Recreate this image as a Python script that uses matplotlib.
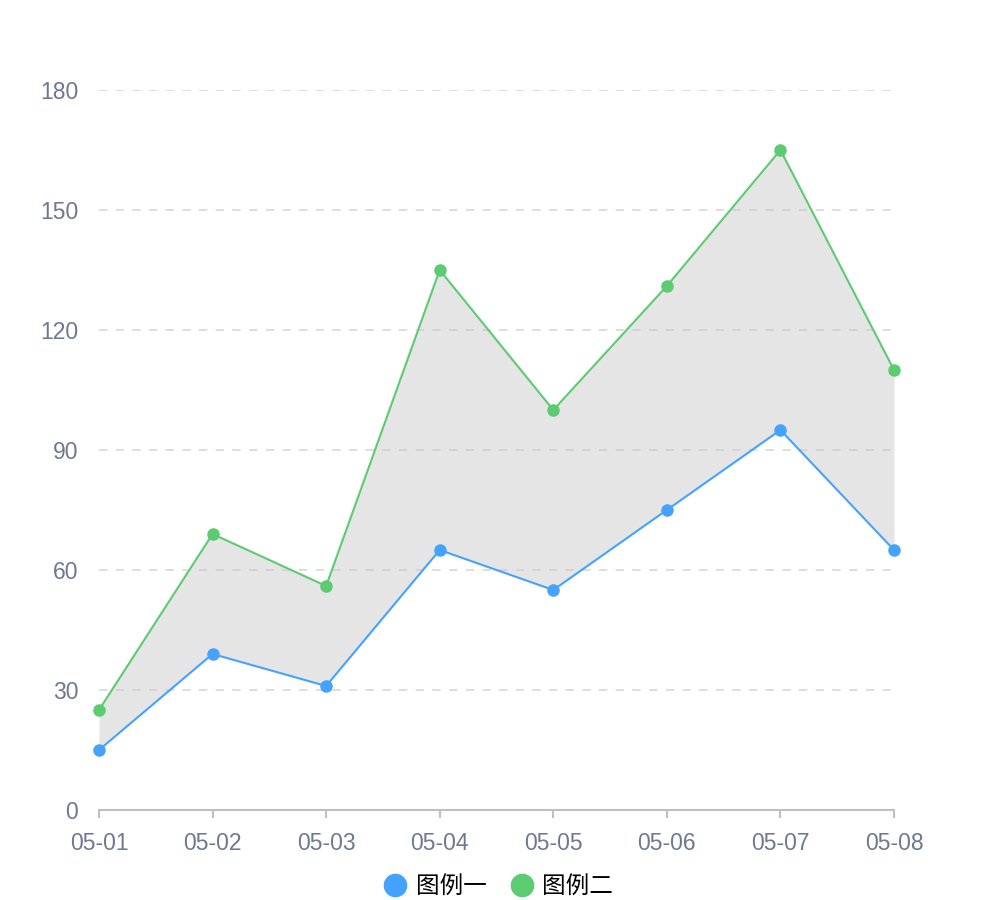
import matplotlib
matplotlib.use("Agg")
import matplotlib.pyplot as plt
from matplotlib.lines import Line2D

plt.rcParams["font.family"] = ["Noto Sans CJK SC", "DejaVu Sans"]

dates = ["05-01", "05-02", "05-03", "05-04", "05-05", "05-06", "05-07", "05-08"]
series_one = [15, 39, 31, 65, 55, 75, 95, 65]
series_two = [25, 69, 56, 135, 100, 131, 165, 110]
labels = ["图例一", "图例二"]
y_ticks = [0, 30, 60, 90, 120, 150, 180]

BLUE = "#45A2FF"
GREEN = "#5CCB72"
TICK = "#6E7891"

fig = plt.figure(figsize=(9.94, 9.0), dpi=100)
ax = fig.add_axes([99 / 994, 0.1, (894 - 99) / 994, 0.8])

x = list(range(len(dates)))
ax.fill_between(x, series_one, series_two, color="#e5e5e5", lw=0, zorder=1)
for yv in y_ticks[1:]:
    ax.axhline(yv, color="#c8c8cc", lw=1.2, ls=(0, (5, 5)), alpha=0.7, zorder=2)
ax.plot(x, series_one, color=BLUE, lw=1.5, marker="o", ms=8, zorder=3, clip_on=False)
ax.plot(x, series_two, color=GREEN, lw=1.5, marker="o", ms=8, zorder=3, clip_on=False)

ax.set_xlim(0, 7)
ax.set_ylim(0, 180)
ax.set_xticks(x, dates)
ax.set_yticks(y_ticks)
for s in ["top", "right", "left"]:
    ax.spines[s].set_visible(False)
ax.spines["bottom"].set_color("#bfbfbf")
ax.spines["bottom"].set_linewidth(1.5)
ax.tick_params(axis="x", colors="#bfbfbf", length=6, width=1.5, labelcolor=TICK, pad=10)
ax.tick_params(axis="y", length=0, labelcolor=TICK, pad=15)
for t in ax.get_xticklabels() + ax.get_yticklabels():
    t.set_family(["Liberation Sans", "DejaVu Sans"])
    t.set_fontsize(16.5)

handles = [Line2D([], [], ls="", marker="o", ms=16, color=c) for c in (BLUE, GREEN)]
fig.legend(handles, labels, loc="center", bbox_to_anchor=(0.5, 1 - 887 / 900),
           ncol=2, frameon=False, fontsize=17, handletextpad=0.25, columnspacing=0.9,
           handlelength=1.2)

fig.savefig("out.png", dpi=100)
